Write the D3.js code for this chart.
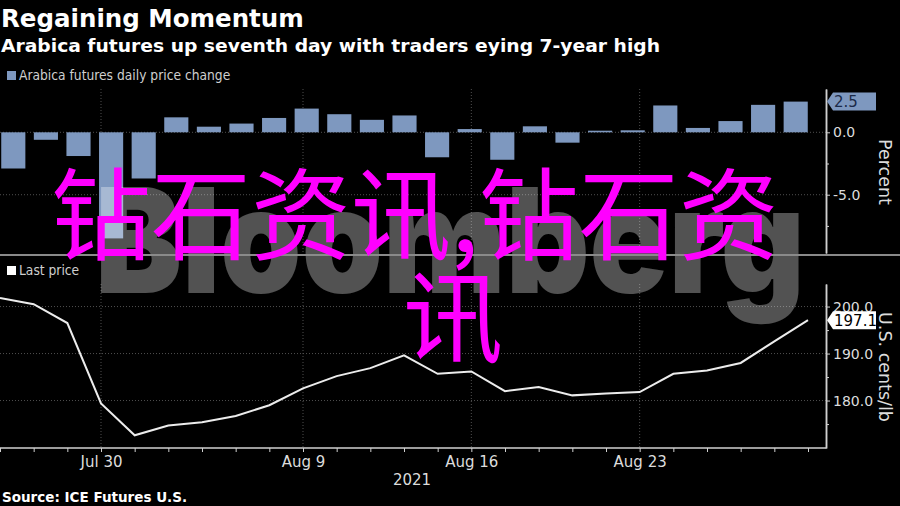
<!DOCTYPE html>
<html><head><meta charset="utf-8">
<script src="https://cdn.jsdelivr.net/npm/d3@7"></script>
<style>
html,body{margin:0;padding:0;background:#000;}
svg{display:block;}
.cond{font-family:"DejaVu Sans Condensed","Liberation Sans Narrow","DejaVu Sans",sans-serif;font-stretch:condensed;}
.lab{font-family:"DejaVu Sans",sans-serif;}
</style></head>
<body>
<script>
// ---- data ----
const dates = ["Jul 27","Jul 28","Jul 29","Jul 30","Aug 2","Aug 3","Aug 4","Aug 5","Aug 6",
  "Aug 9","Aug 10","Aug 11","Aug 12","Aug 13","Aug 16","Aug 17","Aug 18","Aug 19","Aug 20",
  "Aug 23","Aug 24","Aug 25","Aug 26","Aug 27","Aug 30"];
const dailyChange = [-2.9,-0.6,-1.9,-8.5,-3.7,1.2,0.45,0.7,1.15,1.9,1.45,1.0,1.35,-2.0,
  0.26,-2.2,0.48,-0.83,0.13,0.16,2.15,0.35,0.9,2.2,2.46];
const lastPrice = [201.8,200.5,196.5,179.4,172.6,174.7,175.4,176.7,179.0,182.6,185.2,186.9,189.6,185.7,
  186.2,182.0,182.9,181.1,181.5,181.8,185.7,186.4,188.0,192.6,197.1];
const labelledDates = ["Jul 30","Aug 9","Aug 16","Aug 23"];
const pctTicks = [0,-5];
const pctMinor = [-2.5,-7.5];
const priceTicks = [200,190,180];
const priceMinor = [195,185,175];
const yearLabel = "2021";

const W = 900, H = 506;
const svg = d3.select("body").append("svg").attr("width",W).attr("height",H);
svg.append("rect").attr("width",W).attr("height",H).attr("fill","#000");

const axisX = 826;
const barColor = "#7e98bf";
const gridColor = "#4f4f4f";
const textColor = "#dcdcdc";

// scales
const xBand = d3.scaleBand().domain(dates).range([-3, 812]).paddingInner(0.26).paddingOuter(0.13);
const xPt = d3.scalePoint().domain(dates).range([0, 808]);
const yTop = d3.scaleLinear().domain([-9.67, 3.47]).range([253, 89]);
const yBot = d3.scaleLinear().domain([169.9, 204.8]).range([448, 284]);

// ---- titles ----
svg.append("text").attr("x",1).attr("y",27).text("Regaining Momentum")
  .attr("fill","#fff").attr("font-family","DejaVu Sans, sans-serif").attr("font-weight","bold").attr("font-size",24.5);
svg.append("text").attr("x",1).attr("y",52).text("Arabica futures up seventh day with traders eying 7-year high")
  .attr("fill","#fff").attr("font-family","DejaVu Sans, sans-serif").attr("font-weight","bold").attr("font-size",18)
  .attr("textLength",659).attr("lengthAdjust","spacingAndGlyphs");

// ---- gridlines ----
const grid = svg.append("g").attr("stroke",gridColor).attr("stroke-width",1).attr("stroke-dasharray","1,2");
labelledDates.forEach(d => {
  grid.append("line").attr("x1",xPt(d)).attr("x2",xPt(d)).attr("y1",yTop.range()[1]).attr("y2",yTop.range()[0]);
  grid.append("line").attr("x1",xPt(d)).attr("x2",xPt(d)).attr("y1",yBot.range()[1]).attr("y2",yBot.range()[0]);
});
pctTicks.forEach(v => grid.append("line").attr("x1",0).attr("x2",axisX).attr("y1",yTop(v)).attr("y2",yTop(v)));
priceTicks.forEach(v => grid.append("line").attr("x1",0).attr("x2",axisX).attr("y1",yBot(v)).attr("y2",yBot(v)));

// ---- bars ----
svg.append("g").selectAll("rect").data(dates).join("rect")
  .attr("x", d => xBand(d))
  .attr("width", xBand.bandwidth())
  .attr("y", (d,i) => Math.min(yTop(0), yTop(dailyChange[i])))
  .attr("height", (d,i) => Math.abs(yTop(dailyChange[i]) - yTop(0)))
  .attr("fill", barColor);

// ---- line ----
svg.append("path").datum(lastPrice)
  .attr("d", d3.line().x((d,i) => xPt(dates[i])).y(d => yBot(d)))
  .attr("fill","none").attr("stroke","#ececec").attr("stroke-width",2);

// ---- Bloomberg watermark ----
svg.append("text").attr("x",95).attr("y",293).text("Bloomberg")
  .attr("font-family","Inter, Lato, Liberation Sans, sans-serif").attr("font-weight",900)
  .attr("font-size",146).attr("textLength",710).attr("lengthAdjust","spacingAndGlyphs")
  .attr("fill","#fff").attr("fill-opacity",0.32);

// ---- panel separator ----
svg.append("line").attr("x1",0).attr("x2",W).attr("y1",255).attr("y2",255)
  .attr("stroke","#8a8a8a").attr("stroke-width",2);

// ---- axes ----
function styleAxis(g, size){
  g.select(".domain").attr("stroke","#d0d0d0").attr("stroke-width",1.5);
  g.selectAll(".tick line").attr("stroke","#d0d0d0");
  g.selectAll(".tick text").attr("fill",textColor).attr("class","lab").attr("font-size",size || 14);
}
const fmt = d => d.toFixed(1);
svg.append("g").attr("transform",`translate(${axisX},0)`)
  .call(d3.axisRight(yTop).tickValues(pctTicks).tickFormat(fmt).tickSize(4).tickSizeOuter(0).tickPadding(3))
  .call(styleAxis);
svg.append("g").attr("transform",`translate(${axisX},0)`)
  .call(d3.axisRight(yTop).tickValues(pctMinor).tickFormat("").tickSize(3).tickSizeOuter(0))
  .call(styleAxis);
svg.append("g").attr("transform",`translate(${axisX},0)`)
  .call(d3.axisRight(yBot).tickValues(priceTicks).tickFormat(fmt).tickSize(4).tickSizeOuter(0).tickPadding(3))
  .call(styleAxis);
svg.append("g").attr("transform",`translate(${axisX},0)`)
  .call(d3.axisRight(yBot).tickValues(priceMinor).tickFormat("").tickSize(3).tickSizeOuter(0))
  .call(styleAxis);
const xAx = svg.append("g").attr("transform",`translate(0,${yBot.range()[0]})`)
  .call(d3.axisBottom(xPt).tickValues(dates).tickFormat(d => labelledDates.includes(d) ? d : "").tickSize(4).tickSizeOuter(0).tickPadding(4))
  .call(g => styleAxis(g, 15));
xAx.select(".domain").attr("d", `M0,0H${axisX}`);

svg.append("text").attr("x",412).attr("y",485).attr("text-anchor","middle").text(yearLabel)
  .attr("fill",textColor).attr("class","lab").attr("font-size",15);

// axis titles
svg.append("text").attr("transform","translate(879,172) rotate(90)").attr("text-anchor","middle")
  .text("Percent").attr("fill",textColor).attr("class","lab").attr("font-size",17.5);
svg.append("text").attr("transform","translate(879,367) rotate(90)").attr("text-anchor","middle")
  .text("U.S. cents/lb").attr("fill",textColor).attr("class","lab").attr("font-size",17.5);

// ---- last value tags ----
function tag(y, txt, fill, tcol){
  const g = svg.append("g");
  g.append("path").attr("d",`M${axisX+1},${y} L${axisX+7},${y-9} H876 V${y+9} H${axisX+7} Z`).attr("fill",fill);
  g.append("text").attr("x",834).attr("y",y+5.5).text(txt).attr("fill",tcol).attr("class","lab").attr("font-size",15);
}
tag(yTop(dailyChange[dailyChange.length-1]), dailyChange[dailyChange.length-1].toFixed(1), barColor, "#1b2a48");
tag(yBot(lastPrice[lastPrice.length-1]), lastPrice[lastPrice.length-1].toFixed(1), "#fff", "#000");

// ---- legends ----
svg.append("rect").attr("x",7).attr("y",71).attr("width",9).attr("height",9).attr("fill",barColor);
svg.append("text").attr("x",19).attr("y",80).text("Arabica futures daily price change")
  .attr("fill","#cfcfcf").attr("class","cond").attr("font-size",13.7);
svg.append("rect").attr("x",7).attr("y",266).attr("width",9).attr("height",9).attr("fill","#fff");
svg.append("text").attr("x",19).attr("y",275).text("Last price")
  .attr("fill","#cfcfcf").attr("class","cond").attr("font-size",13.7);

// ---- source ----
svg.append("text").attr("x",2).attr("y",502).text("Source: ICE Futures U.S.")
  .attr("fill","#fff").attr("font-family","DejaVu Sans, sans-serif").attr("font-weight","bold").attr("font-size",13.5);

// ---- overlaid magenta text ----
const ovl = svg.append("g").attr("fill","#ff00ff").attr("font-family","Noto Sans CJK SC, sans-serif").attr("font-size",100);
ovl.append("text").attr("x",51).attr("y",252).text("钻石资讯,钻石资");
ovl.append("text").attr("x",403).attr("y",355).text("讯");
</script>
</body></html>
